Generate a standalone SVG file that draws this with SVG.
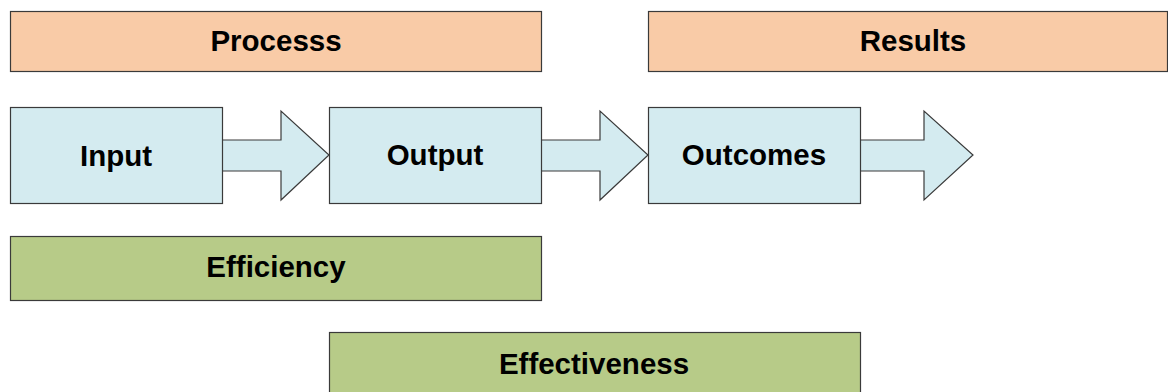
<svg xmlns="http://www.w3.org/2000/svg" width="1168" height="392" viewBox="0 0 1168 392">
<style>
.box{stroke:#3a3a3a;stroke-width:1.2}
.peach{fill:#F9CBA7}
.blue{fill:#D4EBF0}
.green{fill:#B7CB88}
.arrow{fill:#D4EBF0;stroke:#3a3a3a;stroke-width:1.2;stroke-linejoin:miter}
text{font-family:"Liberation Sans",Arial,sans-serif;font-weight:bold;font-size:29.5px;fill:#000;text-anchor:middle}
</style>
<rect width="1168" height="392" fill="#fff"/>
<g id="connectors">
<polygon class="arrow" points="222,140 281,140 281,111 329,155 281,200 281,171 222,171"/>
<polygon class="arrow" points="541,140 600,140 600,111 648,155 600,200 600,171 541,171"/>
<polygon class="arrow" points="860,140 924,140 924,111 973,155 924,200 924,171 860,171"/>
</g>
<g id="processs">
<rect class="box peach" x="10.5" y="11.5" width="531" height="60"/>
<text x="276" y="50.5">Processs</text>
</g>
<g id="results">
<rect class="box peach" x="648.5" y="11.5" width="519" height="60"/>
<text x="913" y="50.5">Results</text>
</g>
<g id="input">
<rect class="box blue" x="10.5" y="107.5" width="212" height="96"/>
<text x="116" y="165.5">Input</text>
</g>
<g id="output">
<rect class="box blue" x="329.5" y="107.5" width="212" height="96"/>
<text x="435" y="164.5">Output</text>
</g>
<g id="outcomes">
<rect class="box blue" x="648.5" y="107.5" width="212" height="96"/>
<text x="754" y="164.5">Outcomes</text>
</g>
<g id="efficiency">
<rect class="box green" x="10.5" y="236.5" width="531" height="64"/>
<text x="276" y="277">Efficiency</text>
</g>
<g id="effectiveness">
<rect class="box green" x="329.5" y="332.5" width="531" height="70"/>
<text x="594" y="373.5">Effectiveness</text>
</g>
</svg>
